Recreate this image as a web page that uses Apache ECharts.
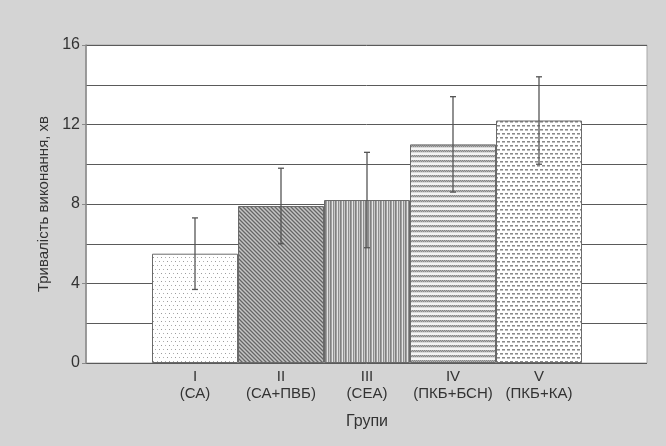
<!DOCTYPE html>
<html>
<head>
<meta charset="utf-8">
<script src="https://cdn.jsdelivr.net/npm/echarts@6/dist/echarts.min.js"></script>
<style>
html,body{margin:0;padding:0;background:#d4d4d4;}
#chart{width:666px;height:446px;}
</style>
</head>
<body>
<div id="chart"></div>
<script>
// ---- data ----
var groups = ['I', 'II', 'III', 'IV', 'V'];
var groupNames = ['(СА)', '(СА+ПВБ)', '(СЕА)', '(ПКБ+БСН)', '(ПКБ+КА)'];
var means = [5.5, 7.9, 8.2, 11.0, 12.2];
var errors = [1.8, 1.9, 2.4, 2.4, 2.2];
var yTicks = [0, 4, 8, 12, 16];
var yTitle = 'Тривалість виконання, хв';
var xTitle = 'Групи';

// ---- patterns ----
function makeCanvas(w, h, draw) {
  var c = document.createElement('canvas');
  c.width = w; c.height = h;
  var ctx = c.getContext('2d');
  draw(ctx, w, h);
  return c;
}
function px(ctx, x, y, col) { ctx.fillStyle = col; ctx.fillRect(x, y, 1, 1); }

var patDots = makeCanvas(8, 8, function (ctx, w, h) {
  ctx.fillStyle = '#ffffff'; ctx.fillRect(0, 0, w, h);
  px(ctx, 1, 1, '#9a9a9a'); px(ctx, 5, 1, '#b0b0b0');
  px(ctx, 3, 5, '#b0b0b0'); px(ctx, 7, 5, '#9a9a9a');
});
var patDense = makeCanvas(4, 4, function (ctx, w, h) {
  ctx.fillStyle = '#9a9a9a'; ctx.fillRect(0, 0, w, h);
  for (var i = 0; i < 4; i++) {
    px(ctx, i, i, '#666666');
    px(ctx, i, (i + 2) % 4, '#c4c4c4');
  }
});
var patVert = makeCanvas(5, 1, function (ctx) {
  var cols = ['#808080', '#a0a0a0', '#e4e4e4', '#8e8e8e', '#c8c8c8'];
  for (var i = 0; i < cols.length; i++) px(ctx, i, 0, cols[i]);
});
var patWave = makeCanvas(6, 5, function (ctx, w, h) {
  ctx.fillStyle = '#f4f4f4'; ctx.fillRect(0, 0, w, h);
  for (var x = 0; x < 6; x++) {
    px(ctx, x, x % 2, '#888888');
    px(ctx, x, 1 - (x % 2), '#b4b4b4');
  }
  for (var x2 = 0; x2 < 6; x2++) px(ctx, x2, 2, '#dadada');
});
var patDash = makeCanvas(10, 8, function (ctx, w, h) {
  ctx.fillStyle = '#ffffff'; ctx.fillRect(0, 0, w, h);
  ctx.fillStyle = '#8a8a8a'; ctx.fillRect(0, 1, 3, 1); ctx.fillRect(5, 1, 3, 1);
  ctx.fillStyle = '#bdbdbd'; ctx.fillRect(0, 2, 3, 1); ctx.fillRect(5, 2, 3, 1);
  ctx.fillStyle = '#8a8a8a'; ctx.fillRect(2, 5, 3, 1); ctx.fillRect(7, 5, 3, 1);
  ctx.fillStyle = '#bdbdbd'; ctx.fillRect(2, 6, 3, 1); ctx.fillRect(7, 6, 3, 1);
});
var patterns = [patDots, patDense, patVert, patWave, patDash];

var categories = groups.map(function (g, i) { return g + '\n' + groupNames[i]; });
var barData = means.map(function (v, i) {
  return {
    value: v,
    itemStyle: { color: { image: patterns[i], repeat: 'repeat' } }
  };
});
var errData = means.map(function (v, i) { return [i, v - errors[i], v + errors[i]]; });

var FONT = 'Liberation Sans, Arial, sans-serif';
var TXT = '#333333';

var chart = echarts.init(document.getElementById('chart'), null, { renderer: 'canvas' });
chart.setOption({
  backgroundColor: '#d4d4d4',
  animation: false,
  grid: [
    { left: 86, right: 19, top: 45, bottom: 83, show: true, backgroundColor: '#ffffff', borderColor: '#a8a8a8', borderWidth: 1 },
    { left: 152, right: 84, top: 45, bottom: 83 }
  ],
  xAxis: [
    { gridIndex: 0, type: 'value', min: 0, max: 1, show: false },
    {
      gridIndex: 1, type: 'category', data: categories,
      axisLine: { show: false }, axisTick: { show: false },
      axisLabel: { color: TXT, fontFamily: FONT, fontSize: 15, lineHeight: 17, margin: 5, interval: 0 },
      name: xTitle, nameLocation: 'middle', nameGap: 51,
      nameTextStyle: { color: TXT, fontFamily: FONT, fontSize: 16 }
    }
  ],
  yAxis: [
    {
      gridIndex: 0, type: 'value', min: 0, max: 16, interval: 2,
      axisLine: { show: false }, axisTick: { show: false }, axisLabel: { show: false },
      splitLine: { show: true, lineStyle: { color: '#5a5a5a', width: 1 } }
    },
    {
      gridIndex: 0, type: 'value', min: yTicks[0], max: yTicks[yTicks.length - 1], interval: 4, position: 'left',
      axisLine: { show: true, lineStyle: { color: '#8a8a8a', width: 1.5 } },
      axisTick: { show: true, length: 4, lineStyle: { color: '#8a8a8a' } },
      axisLabel: { color: TXT, fontFamily: FONT, fontSize: 16, margin: 6 },
      splitLine: { show: false },
      name: yTitle, nameLocation: 'middle', nameGap: 35, nameRotate: 90,
      nameTextStyle: { color: TXT, fontFamily: FONT, fontSize: 15 }
    },
    { gridIndex: 1, type: 'value', min: 0, max: 16, show: false }
  ],
  series: [
    {
      type: 'bar', xAxisIndex: 1, yAxisIndex: 2, data: barData,
      barCategoryGap: '0%',
      itemStyle: { borderColor: '#6a6a6a', borderWidth: 1 }
    },
    {
      type: 'custom', xAxisIndex: 1, yAxisIndex: 2, data: errData, z: 10,
      renderItem: function (params, api) {
        var x = api.value(0);
        var lo = api.coord([x, api.value(1)]);
        var hi = api.coord([x, api.value(2)]);
        var cap = 3;
        var st = { stroke: '#555555', lineWidth: 1.3 };
        return {
          type: 'group',
          children: [
            { type: 'line', shape: { x1: lo[0], y1: lo[1], x2: hi[0], y2: hi[1] }, style: st },
            { type: 'line', shape: { x1: lo[0] - cap, y1: lo[1], x2: lo[0] + cap, y2: lo[1] }, style: st },
            { type: 'line', shape: { x1: hi[0] - cap, y1: hi[1], x2: hi[0] + cap, y2: hi[1] }, style: st }
          ]
        };
      }
    }
  ]
});
</script>
</body>
</html>
